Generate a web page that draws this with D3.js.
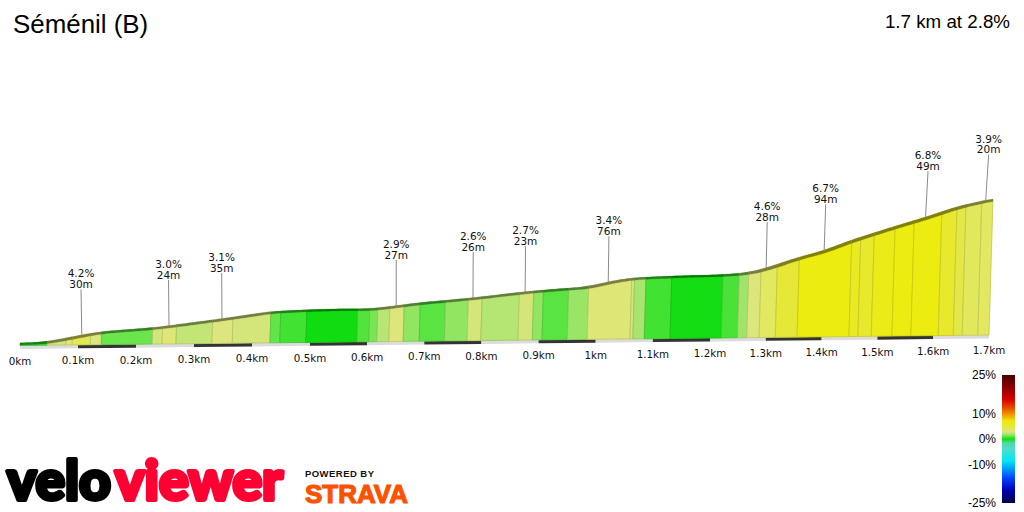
<!DOCTYPE html>
<html><head><meta charset="utf-8">
<style>html,body{margin:0;padding:0;background:#fff;overflow:hidden}svg{display:block}</style>
<script src="https://cdn.jsdelivr.net/npm/d3@7"></script></head>
<body><svg id="c" width="1024" height="512"></svg>
<script>
const titleText = "Séménil (B)";
const summaryText = "1.7 km at 2.8%";
const profileKm = [0,.046,.081,.108,.137,.227,.258,.347,.429,.49,.551,.603,.649,.691,.731,.783,.874,.912,.982,1.019,1.062,1.144,1.214,1.263,1.299,1.352,1.398,1.449,1.522,1.582,1.635,1.689,1.7];
const profileM  = [.7,1.1,2.4,3.4,4.4,5.6,6.3,8.5,10.8,11.3,11.5,11.4,12.4,13.4,14,14.9,16.8,17.4,18.3,20,21.3,21.8,22,22.6,24.3,27.7,30,33.7,38.1,41.5,44.9,47.2,47.6];
const segmentEnds = [.047,.079,.09,.121,.14,.228,.245,.269,.331,.366,.431,.448,.493,.582,.603,.617,.638,.663,.691,.735,.775,.799,.864,.889,.906,.95,.985,1.06,1.065,1.085,1.13,1.22,1.249,1.266,1.288,1.317,1.356,1.449,1.465,1.489,1.526,1.56,1.609,1.636,1.652,1.68,1.7];
const segmentGrades = [.5,2.8,3.4,4.2,3,1.1,2.7,3.2,2.4,3,2.8,1,.6,0,.8,1.3,2.2,3,1.6,.9,1.6,2.8,2.1,2.8,1.6,.9,1.7,3.2,2.8,1.9,.6,.05,.7,1.8,3,3.9,5,7,6,5.6,6.6,7,7,5.6,4.6,4,3.9];
const calloutKm = [.106,.256,.347,.649,.783,.874,1.019,1.297,1.4,1.58,1.687];
const calloutGrade = ["4.2%","3.0%","3.1%","2.9%","2.6%","2.7%","3.4%","4.6%","6.7%","6.8%","3.9%"];
const calloutLength = ["30m","24m","35m","27m","26m","23m","76m","28m","94m","49m","20m"];
const tickKm = [0,.1,.2,.3,.4,.5,.6,.7,.8,.9,1,1.1,1.2,1.3,1.4,1.5,1.6,1.7];
const tickLabels = ["0km","0.1km","0.2km","0.3km","0.4km","0.5km","0.6km","0.7km","0.8km","0.9km","1km","1.1km","1.2km","1.3km","1.4km","1.5km","1.6km","1.7km"];
const legendTicks = [25,10,0,-10,-25];
const gradeStops = [-25,-20,-15.5,-8.5,-4,-1.5,0,1,2,3,4,5,7,9,12,15.5,20,25];
const gradeColors = ["#00004a","#0000b4","#0040ff","#00e8f0","#50dcd0","#50d8a0","#10dd10","#62e548","#b0e572","#dde67c","#e2e85c","#e6e838","#ecec10","#f4a800","#e85000","#d80000","#900000","#480000"];

const svg = d3.select("#c");
const color = d3.scaleLinear().domain(gradeStops).range(gradeColors);
const elevLinear = d3.scaleLinear().domain(profileKm).range(profileM).clamp(true);
// the reference's top edge is a smooth curve: soften the corners of the polyline when drawing
const elevation = k=>d3.mean(d3.range(-4,5),j=>elevLinear(k+j*.005));
const xBase = d3.scaleLinear().domain([0,.5,1.2,1.7]).range([20,310,710,989]);
const yBase = d3.scaleLinear().domain([0,1.7]).range([345.5,335]);
const rise = d3.scaleLinear().domain([0,47.6]).range([0,136]);
const lean = d3.scaleLinear().domain([0,47.6]).range([0,4]);
const topPt = (km,off=0)=>{const m=elevation(km);return [xBase(km)+lean(m), yBase(km)-rise(m)+off];};
const basePt = km=>[xBase(km),yBase(km)];
const starts = segmentEnds.map((e,i)=>i?segmentEnds[i-1]:0);
const kmsIn = (a,b)=>[a,...d3.range(Math.ceil(a/.004)*.004,b,.004).filter(k=>k>a&&k<b),b];
const line = d3.line();
const slope = k=>{const a=topPt(k-.004),b=topPt(k+.004);return Math.max(0,(a[1]-b[1])/(b[0]-a[0]||1));};

// distance strip
const strip = svg.append("g");
strip.selectAll("path").data(tickKm.slice(0,-1)).join("path")
  .attr("d",(k,i)=>{const n=tickKm[i+1];return line([basePt(k),basePt(n),[xBase(n),yBase(n)+3.4],[xBase(k),yBase(k)+3.4]])+"Z";})
  .attr("fill",(k,i)=>i%2?"#333":"#dcdcdc");

// gradient segments
svg.append("g").selectAll("path").data(segmentGrades).join("path")
  .attr("d",(g,i)=>{const ks=kmsIn(starts[i],segmentEnds[i]);return line([...ks.map(k=>topPt(k)),basePt(segmentEnds[i]),basePt(starts[i])])+"Z";})
  .attr("fill",g=>color(g))
  .attr("stroke",g=>d3.color(color(g)).darker(.45))
  .attr("stroke-width",.8);

// top ribbon
svg.append("g").selectAll("path").data(segmentGrades).join("path")
  .attr("d",(g,i)=>{const ks=kmsIn(starts[i],segmentEnds[i]);
    return line([...ks.map(k=>topPt(k,-.5)),...ks.slice().reverse().map(k=>topPt(k,1.5+slope(k)*4))])+"Z";})
  .attr("fill",g=>d3.color(color(g)).darker(1.7))
  .attr("stroke",g=>d3.color(color(g)).darker(1.7))
  .attr("stroke-width",.2);

// callouts
const callouts = svg.append("g");
calloutKm.forEach((k,i)=>{
  const [x,y]=topPt(k);
  const tx = x-1+lean(elevation(k));
  callouts.append("line").attr("x1",x).attr("y1",y).attr("x2",tx).attr("y2",y-46).attr("stroke","#8a8a8a").attr("stroke-width",1);
  callouts.append("text").attr("x",tx).attr("y",y-58).text(calloutGrade[i]);
  callouts.append("text").attr("x",tx).attr("y",y-47.5).text(calloutLength[i]);
});
callouts.selectAll("text").attr("font-family","DejaVu Sans").attr("font-size",10.5).attr("text-anchor","middle").attr("fill","#111");

// distance ticks
svg.append("g").selectAll("text").data(tickKm).join("text")
  .attr("x",k=>xBase(k)).attr("y",k=>yBase(k)+19.3)
  .attr("font-family","DejaVu Sans").attr("font-size",10.3).attr("text-anchor","middle").attr("fill","#111")
  .text((k,i)=>tickLabels[i]);

// titles
svg.append("text").attr("x",13).attr("y",33).attr("font-family","Liberation Sans").attr("font-size",25.9).attr("fill","#000").text(titleText);
svg.append("text").attr("x",1010).attr("y",28).attr("text-anchor","end").attr("font-family","Liberation Sans").attr("font-size",18.75).attr("fill","#000").text(summaryText);

// colour legend
const legendY = d3.scaleLinear().domain([-25,25]).range([503,375]);
const defs = svg.append("defs");
const lg = defs.append("linearGradient").attr("id","lg").attr("x1",0).attr("x2",0).attr("y1",1).attr("y2",0);
lg.selectAll("stop").data(gradeStops).join("stop").attr("offset",d=>(d+25)/50).attr("stop-color",d=>color(d));
svg.append("rect").attr("x",1002).attr("y",legendY(25)).attr("width",13).attr("height",legendY(-25)-legendY(25)).attr("fill","url(#lg)");
const legendAxis = svg.append("g").attr("transform","translate(996,0)")
  .call(d3.axisLeft(legendY).tickValues(legendTicks).tickSize(0).tickPadding(0).tickFormat(d=>d+"%"));
legendAxis.select(".domain").remove();
legendAxis.selectAll("text").attr("font-family","Liberation Sans").attr("font-size",12).attr("fill","#000");

// logos
const logo = svg.append("g").attr("font-family","Lato").attr("font-weight",900).attr("font-size",55).attr("stroke-width",4).attr("stroke-linejoin","round");
logo.append("text").attr("x",7).attr("y",500).attr("fill","#000").attr("stroke","#000")
  .attr("textLength",104).attr("lengthAdjust","spacingAndGlyphs").text("velo");
logo.append("text").attr("x",115).attr("y",500).attr("fill","#ff0033").attr("stroke","#ff0033")
  .attr("textLength",168).attr("lengthAdjust","spacingAndGlyphs").text("viewer");
svg.append("text").attr("x",305).attr("y",477).attr("font-family","Liberation Sans").attr("font-weight",700).attr("font-size",9.5)
  .attr("textLength",69).attr("fill","#111").text("POWERED BY");
svg.append("text").attr("x",305).attr("y",503).attr("font-family","Liberation Sans").attr("font-weight",700).attr("font-size",26.5)
  .attr("textLength",103).attr("lengthAdjust","spacingAndGlyphs").attr("fill","#fc5200").attr("stroke","#fc5200").attr("stroke-width",1.2).text("STRAVA");
</script></body></html>
